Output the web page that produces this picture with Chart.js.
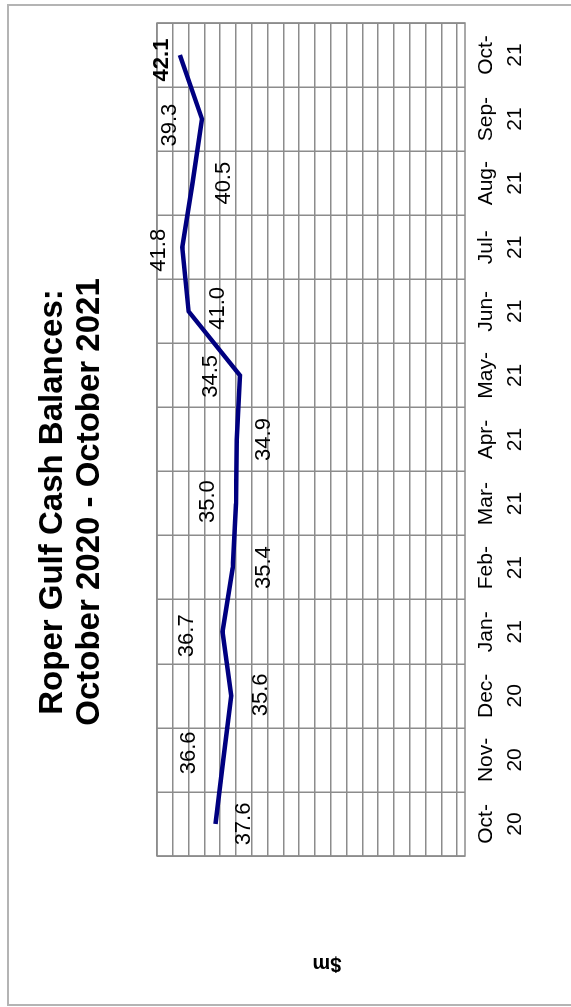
<!DOCTYPE html>
<html>
<head>
<meta charset="utf-8">
<title>Roper Gulf Cash Balances</title>
<script src="https://cdn.jsdelivr.net/npm/chart.js@4.4.1/dist/chart.umd.min.js"></script>
<style>
  html, body { margin: 0; padding: 0; background: #ffffff; overflow: hidden; }
  /* the chart is laid out landscape and turned a quarter turn to fit the page */
  #frame {
    position: absolute;
    left: 0;
    top: 0;
    width: 1007px;
    height: 571px;
    overflow: hidden;
    transform-origin: top left;
    transform: translate(0, 1007px) rotate(-90deg);
    background: #ffffff;
  }
  #border {
    position: absolute;
    left: 1px;
    top: 7px;
    width: 1002px;
    height: 640px;
    border: 2px solid #b4b4b4;
    box-sizing: border-box;
  }
  #cashChart { position: absolute; left: 0; top: 0; }
</style>
</head>
<body>
<div id="frame">
  <div id="border"></div>
  <canvas id="cashChart" width="1007" height="571"></canvas>
</div>
<script>
/******************************************* Chart data ***********************************************/
const months = [
  ["Oct-", "20"], ["Nov-", "20"], ["Dec-", "20"], ["Jan-", "21"], ["Feb-", "21"],
  ["Mar-", "21"], ["Apr-", "21"], ["May-", "21"], ["Jun-", "21"], ["Jul-", "21"],
  ["Aug-", "21"], ["Sep-", "21"], ["Oct-", "21"],
];
// cash balance at month end, $m
const balances = [37.6, 36.6, 35.6, 36.7, 35.4, 35.0, 34.9, 34.5, 41.0, 41.8, 40.5, 39.3, 42.1];
const titleLines = ["Roper Gulf Cash Balances:", "October 2020 - October 2021"];
const axisTitle = "$m";
const axisMin = 6;
const axisMax = 45;
const gridStep = 2;

/******************************************* Label placement (px, + is below the line) ***********************************************/
const labelDy = [28, -34, 30, -36, 31, -28, 27, -29, 29, -23, 31, -32, -18];
const labelDx = [0, 7, 1, -4, 0, 2, 0, -1, 3, -3, 0, -6, -5];

const FONT = "'Liberation Sans', Arial, sans-serif";
const GRID = "#8c8c8c";

/******************************************* Plugin for title, axis title, box and value labels ***********************************************/
const decorations = {
  id: "decorations",
  beforeDatasetsDraw(chart) {
    const { ctx, chartArea: a } = chart;
    ctx.save();
    ctx.strokeStyle = GRID;
    ctx.lineWidth = 1.5;
    ctx.strokeRect(a.left, a.top, a.right - a.left, a.bottom - a.top);
    ctx.restore();
  },
  afterDatasetsDraw(chart) {
    const { ctx } = chart;
    ctx.save();

    // chart title
    ctx.fillStyle = "#000000";
    ctx.textAlign = "center";
    ctx.textBaseline = "alphabetic";
    ctx.font = "bold 33px " + FONT;
    ctx.fillText(titleLines[0], 505, 62);
    ctx.fillText(titleLines[1], 505, 99);

    // value axis title
    ctx.save();
    ctx.translate(43, 327);
    ctx.rotate(-Math.PI / 2);
    ctx.font = "bold 20px " + FONT;
    ctx.textBaseline = "middle";
    ctx.fillText(axisTitle, 0, 0);
    ctx.restore();

    // value labels
    const meta = chart.getDatasetMeta(0);
    ctx.textBaseline = "middle";
    meta.data.forEach((pt, i) => {
      const last = i === balances.length - 1;
      ctx.font = (last ? "bold " : "") + "22px " + FONT;
      ctx.fillText(balances[i].toFixed(1), pt.x + labelDx[i], pt.y + labelDy[i]);
    });
    ctx.restore();
  },
};

/******************************************* Render the chart ***********************************************/
new Chart(document.getElementById("cashChart"), {
  type: "line",
  data: {
    labels: months,
    datasets: [
      {
        label: "Cash balance",
        data: balances,
        borderColor: "#000080",
        borderWidth: 4.5,
        pointRadius: 0,
        tension: 0,
        fill: false,
      },
    ],
  },
  options: {
    responsive: false,
    animation: false,
    devicePixelRatio: 1,
    layout: { padding: { left: 151, right: 23, top: 157, bottom: 0 } },
    plugins: {
      legend: { display: false },
      tooltip: { enabled: false },
      title: { display: false },
    },
    scales: {
      x: {
        offset: true,
        grid: { offset: true, color: GRID, lineWidth: 1.5, drawTicks: false },
        border: { display: false },
        ticks: {
          color: "#000000",
          padding: 7,
          maxRotation: 0,
          autoSkip: false,
          font: { family: FONT, size: 21, lineHeight: 1.38 },
        },
        afterFit(scale) {
          scale.height = 106;
        },
      },
      y: {
        min: axisMin,
        max: axisMax,
        grid: { color: GRID, lineWidth: 1.5, drawTicks: false },
        border: { display: false },
        ticks: { display: false },
        afterBuildTicks(scale) {
          const ticks = [];
          for (let v = axisMax; v > axisMin; v -= gridStep) ticks.push({ value: v });
          scale.ticks = ticks;
        },
        afterFit(scale) {
          scale.width = 0;
        },
      },
    },
  },
  plugins: [decorations],
});
</script>
</body>
</html>
